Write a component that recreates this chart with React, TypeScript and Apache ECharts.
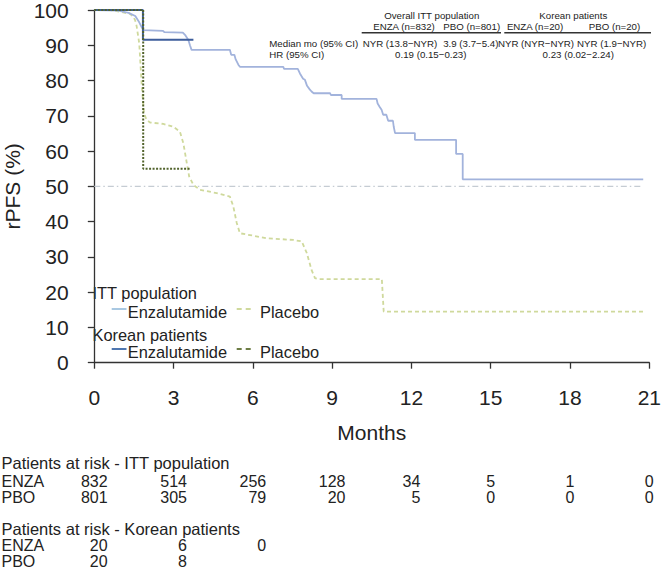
import React, { useEffect, useRef } from "react";
import * as echarts from "echarts";

const FONT = "'Liberation Sans', Arial, Helvetica, sans-serif";

// Kaplan-Meier curves: [months, rPFS %]
const ittEnza: [number, number][] = [
  [0, 100], [0.9, 99.8], [1.3, 99.2], [1.55, 98.3], [1.7, 96.5], [1.8, 95], [1.86, 94.3],
  [2.6, 94.1], [2.65, 93.7], [3.35, 93.6], [3.45, 92.8], [3.56, 91.5], [3.62, 90], [3.68, 88.7],
  [5.13, 88.7], [5.18, 87.3], [5.3, 87.3], [5.35, 86], [5.45, 84.5], [5.51, 83.9],
  [7.15, 83.9], [7.18, 83.3], [7.7, 83.3], [7.78, 82], [7.9, 80.5], [7.97, 80.2],
  [8.05, 78.5], [8.15, 77.5], [8.22, 76.9], [8.3, 76.4], [8.92, 76.4], [8.95, 75.9],
  [9.36, 75.9], [9.36, 74.8], [10.68, 74.8], [10.72, 73.5], [10.8, 72.5], [10.87, 71.7],
  [10.93, 70.3], [11.05, 70.3], [11.12, 68.6], [11.3, 68.6], [11.33, 66.9], [11.38, 65.1],
  [12.13, 65.1], [12.13, 63.2], [13.69, 63.2], [13.69, 59.2], [13.94, 59.2], [13.94, 52.0],
  [20.77, 52.0],
];

const ittPbo: [number, number][] = [
  [0, 100], [0.6, 100], [0.97, 99.5], [1.35, 98.9], [1.47, 98.1], [1.54, 97.2], [1.6, 95.5],
  [1.7, 90.6], [1.79, 79.2], [1.88, 70.7], [1.98, 68.8], [2.11, 68.1], [2.61, 67.7],
  [2.99, 66.9], [3.24, 65.5], [3.37, 62.2], [3.5, 56.6], [3.59, 52.8], [3.75, 50.4],
  [4.0, 49.0], [4.63, 48.1], [5.13, 47.1], [5.26, 44.3], [5.39, 39.6], [5.51, 36.7],
  [6.02, 36.0], [6.52, 35.3], [7.53, 34.8], [7.85, 34.4], [8.04, 31.1], [8.22, 26.3],
  [8.35, 24.0], [8.5, 23.7], [10.88, 23.7], [10.95, 14.5], [20.84, 14.5],
];

const korEnza: [number, number][] = [
  [0, 100], [1.84, 100], [1.84, 91.6], [3.75, 91.6],
];

const korPbo: [number, number][] = [
  [0, 100], [1.85, 100], [1.85, 55], [3.65, 55],
];

const medianRef: [number, number][] = [[0, 50], [20.75, 50]];

// Patients at risk
const riskMonths = [0, 3, 6, 9, 12, 15, 18, 21];
const ittRiskEnza = ["832", "514", "256", "128", "34", "5", "1", "0"];
const ittRiskPbo = ["801", "305", "79", "20", "5", "0", "0", "0"];
const korRiskEnza = ["20", "6", "0"];
const korRiskPbo = ["20", "8"];

// Summary table texts
const groupHeaders = ["Overall ITT population", "Korean patients"];
const armHeaders = ["ENZA (n=832)", "PBO (n=801)", "ENZA (n=20)", "PBO (n=20)"];
const medianRow = ["NYR (13.8\u2212NYR)", "3.9 (3.7\u22125.4)", "NYR (NYR\u2212NYR)", "NYR (1.9\u2212NYR)"];
const hrRow = ["0.19 (0.15\u22120.23)", "0.23 (0.02\u22122.24)"];

const C_ITT_ENZA = "#a2b3dc";
const C_ITT_PBO = "#cfd99c";
const C_KOR_ENZA = "#3e5e9c";
const C_KOR_PBO = "#52632c";
const C_TEXT = "#222";

export default function App() {
  const ref = useRef<HTMLDivElement>(null);
  useEffect(() => {
    if (!ref.current) return;
    const chart = echarts.init(ref.current, undefined, { renderer: "svg" });
    const axisLine = { lineStyle: { color: "#333", width: 1.3 } };
    chart.setOption({
      animation: false,
      grid: {
        left: 94.3, right: 11.7, top: 10, bottom: 209.3,
        containLabel: false, outerBoundsMode: "none",
      },
      xAxis: {
        type: "value", min: 0, max: 21, interval: 3, offset: 11.6,
        axisLine: { show: true, ...axisLine },
        axisTick: { show: true, length: 6, ...axisLine },
        axisLabel: { fontSize: 21, color: C_TEXT, margin: 13, fontFamily: FONT },
        splitLine: { show: false },
        name: "Months", nameLocation: "middle", nameGap: 48,
        nameTextStyle: { fontSize: 21, color: C_TEXT, fontFamily: FONT },
      },
      yAxis: {
        type: "value", min: 0, max: 100, interval: 10, offset: 11.6,
        axisLine: { show: true, ...axisLine },
        axisTick: { show: true, length: 6.5, ...axisLine },
        axisLabel: { fontSize: 21, color: C_TEXT, margin: 14, fontFamily: FONT },
        splitLine: { show: false },
        name: "rPFS (%)", nameLocation: "middle", nameGap: 60,
        nameTextStyle: { fontSize: 21, color: C_TEXT, fontFamily: FONT },
      },
      series: [
        {
          name: "Median", type: "line", data: medianRef, showSymbol: false, silent: true,
          lineStyle: { color: "#c5ccd3", width: 1.1, type: [6, 3, 1.5, 3] },
        },
        {
          name: "ITT Placebo", type: "line", data: ittPbo, showSymbol: false,
          lineStyle: { color: C_ITT_PBO, width: 1.8, type: [4, 3] },
        },
        {
          name: "ITT Enzalutamide", type: "line", data: ittEnza, showSymbol: false,
          lineStyle: { color: C_ITT_ENZA, width: 1.8 },
        },
        {
          name: "Korean Enzalutamide", type: "line", data: korEnza, showSymbol: false,
          lineStyle: { color: C_KOR_ENZA, width: 2 },
        },
        {
          name: "Korean Placebo", type: "line", data: korPbo, showSymbol: false,
          lineStyle: { color: C_KOR_PBO, width: 2, type: [2, 1.5] },
        },
      ],
    });

    const px = (m: number) => chart.convertToPixel({ xAxisIndex: 0 }, m) as number;
    const digitW = 16 * 0.556;
    const colRight = riskMonths.map((m, i) => {
      const w = Math.max(ittRiskEnza[i].length, ittRiskPbo[i].length);
      return px(m) + (w * digitW) / 2;
    });

    const g: any[] = [];
    const txt = (text: string, x: number, y: number, size: number, align = "left", color = C_TEXT) =>
      g.push({
        type: "text", x, y, silent: true,
        style: {
          text, fontSize: size, lineHeight: size, fontFamily: FONT, fill: color,
          textAlign: align, textVerticalAlign: "middle",
        },
      });

    // Summary table
    const TF = 9.7;
    txt(groupHeaders[0], 431.7, 15.7, TF, "center");
    txt(groupHeaders[1], 573.3, 15.7, TF, "center");
    const armX = [404, 471.7, 535, 614.5];
    armHeaders.forEach((t, i) => txt(t, armX[i], 26.7, TF, "center"));
    g.push({ type: "line", shape: { x1: 361.7, y1: 32.7, x2: 501, y2: 32.7 }, style: { stroke: "#333", lineWidth: 1.5 } });
    g.push({ type: "line", shape: { x1: 504.3, y1: 32.7, x2: 651, y2: 32.7 }, style: { stroke: "#333", lineWidth: 1.5 } });
    txt("Median mo (95% CI)", 269.3, 43.3, TF);
    txt("HR (95% CI)", 269.3, 54.3, TF);
    const medX = [400, 470.8, 536, 611.7];
    medianRow.forEach((t, i) => txt(t, medX[i], 43.3, TF, "center"));
    txt(hrRow[0], 430.8, 54.3, TF, "center");
    txt(hrRow[1], 578.3, 54.3, TF, "center");

    // Legend
    const LF = 16.4;
    txt("ITT population", 92.5, 293.3, LF);
    g.push({ type: "line", shape: { x1: 111.7, y1: 309, x2: 126.5, y2: 309 }, style: { stroke: "#a9c8e2", lineWidth: 2 } });
    txt("Enzalutamide", 127.7, 311.6, LF);
    g.push({ type: "line", shape: { x1: 236.7, y1: 309, x2: 253.3, y2: 309 }, style: { stroke: C_ITT_PBO, lineWidth: 2, lineDash: [5, 4] } });
    txt("Placebo", 260, 311.6, LF);
    txt("Korean patients", 92.5, 334.8, LF);
    g.push({ type: "line", shape: { x1: 111.7, y1: 349, x2: 126.5, y2: 349 }, style: { stroke: "#4f77b0", lineWidth: 2 } });
    txt("Enzalutamide", 127.7, 351.6, LF);
    g.push({ type: "line", shape: { x1: 236.7, y1: 349, x2: 253.3, y2: 349 }, style: { stroke: "#6d7d45", lineWidth: 2, lineDash: [5, 4] } });
    txt("Placebo", 260, 351.6, LF);

    // Patients at risk
    txt("Patients at risk - ITT population", 1.5, 462.5, 16.5);
    txt("ENZA", 1.5, 481.7, 16);
    txt("PBO", 1.5, 497.2, 16);
    ittRiskEnza.forEach((t, i) => txt(t, colRight[i], 481.7, 16, "right"));
    ittRiskPbo.forEach((t, i) => txt(t, colRight[i], 497.2, 16, "right"));
    txt("Patients at risk - Korean patients", 1.5, 528.8, 16.5);
    txt("ENZA", 1.5, 545.8, 16);
    txt("PBO", 1.5, 561.7, 16);
    korRiskEnza.forEach((t, i) => txt(t, colRight[i], 545.8, 16, "right"));
    korRiskPbo.forEach((t, i) => txt(t, colRight[i], 561.7, 16, "right"));

    chart.setOption({ graphic: g });
    return () => chart.dispose();
  }, []);
  return (
    <div
      ref={ref}
      style={{ position: "fixed", left: 0, top: 0, width: 661, height: 572, background: "#fff" }}
    />
  );
}
